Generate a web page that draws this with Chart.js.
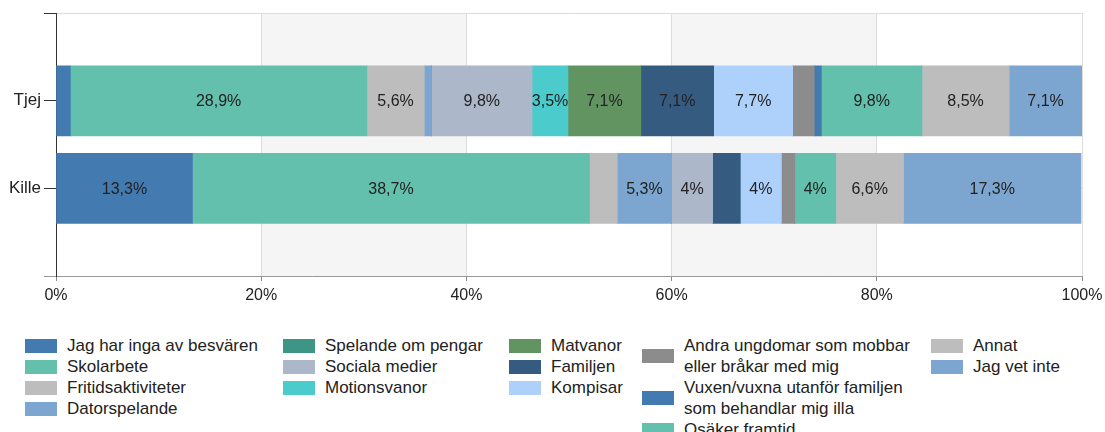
<!DOCTYPE html>
<html lang="sv">
<head>
    <meta charset="UTF-8">
    <title>Besvär – Tjej och Kille</title>
    <style>
        body {
            margin: 0;
            background: #fff;
            font-family: 'Liberation Sans', Arial, sans-serif;
        }
        .wrap {
            position: relative;
            width: 1105px;
            height: 432px;
            overflow: hidden;
        }
        .chart-box {
            position: absolute;
            left: 0;
            top: 0;
            width: 1105px;
            height: 310px;
        }
        #legend {
            position: absolute;
            left: 0;
            top: 335px;
        }
        .col {
            position: absolute;
            top: 0;
        }
        .item {
            display: flex;
            align-items: center;
            font-size: 17px;
            line-height: 21px;
            color: #222;
            white-space: nowrap;
        }
        .item.wrap-text span {
            white-space: normal;
            width: 238px;
        }
        .swatch {
            flex: none;
            width: 32px;
            height: 14px;
            margin-right: 10px;
        }
    </style>
    <script src="https://cdn.jsdelivr.net/npm/chart.js"></script>
</head>
<body>
    <div class="wrap">
        <div class="chart-box">
            <canvas id="chart"></canvas>
        </div>
        <div id="legend"></div>
    </div>

    <script>
        // Data
        const groups = ['Tjej', 'Kille'];
        const answers = [
            'Jag har inga av besvären',
            'Skolarbete',
            'Fritidsaktiviteter',
            'Datorspelande',
            'Spelande om pengar',
            'Sociala medier',
            'Motionsvanor',
            'Matvanor',
            'Familjen',
            'Kompisar',
            'Andra ungdomar som mobbar eller bråkar med mig',
            'Vuxen/vuxna utanför familjen som behandlar mig illa',
            'Osäker framtid',
            'Annat',
            'Jag vet inte'
        ];
        const tjej  = [1.4, 28.9, 5.6, 0.7, 0, 9.8, 3.5, 7.1, 7.1, 7.7, 2.1, 0.7, 9.8, 8.5, 7.1];
        const kille = [13.3, 38.7, 2.7, 5.3, 0, 4, 0, 0, 2.7, 4, 1.3, 0, 4, 6.6, 17.3];
        const colors = [
            '#437bb1', '#63c0ad', '#bdbdbd', '#7ca6cf', '#3d9685',
            '#acb7c9', '#4bcbcb', '#629462', '#365b80', '#aed1fc',
            '#8c8c8c', '#437bb1', '#63c0ad', '#bdbdbd', '#7ca6cf'
        ];

        // legend layout: left edge and number of items per column
        const legendCols = [25, 283, 509, 642, 931];
        const legendPerCol = [4, 3, 3, 3, 2];

        // empty slots above and below give the gap at top and bottom
        const axisLabels = [''].concat(groups, ['']);

        const datasets = answers.map((a, i) => ({
            label: a,
            data: [null, tjej[i], kille[i], null],
            backgroundColor: colors[i],
            borderWidth: 0,
            barThickness: 70
        }));

        const bandPlugin = {
            id: 'bands',
            beforeDraw(chart) {
                const { ctx, chartArea, scales: { x } } = chart;
                ctx.save();
                ctx.fillStyle = '#f5f5f5';
                x.ticks.forEach((t, i) => {
                    if (i % 2 === 1 && i < x.ticks.length - 1) {
                        const x1 = x.getPixelForValue(t.value);
                        const x2 = x.getPixelForValue(x.ticks[i + 1].value);
                        ctx.fillRect(x1, chartArea.top, x2 - x1, chartArea.bottom - chartArea.top);
                    }
                });
                ctx.restore();
            }
        };

        const valueLabels = {
            id: 'valueLabels',
            afterDatasetsDraw(chart) {
                const ctx = chart.ctx;
                ctx.save();
                ctx.font = '16px "Liberation Sans", Arial, sans-serif';
                ctx.fillStyle = '#222';
                ctx.textAlign = 'center';
                ctx.textBaseline = 'middle';
                chart.data.datasets.forEach((ds, i) => {
                    chart.getDatasetMeta(i).data.forEach((bar, j) => {
                        const v = ds.data[j];
                        if (v == null || v < 3) return;
                        const p = bar.getCenterPoint();
                        ctx.fillText(String(v).replace('.', ',') + '%', p.x, p.y + 1);
                    });
                });
                ctx.restore();
            }
        };

        Chart.defaults.font.family = "'Liberation Sans', Arial, sans-serif";
        Chart.defaults.font.size = 16;
        Chart.defaults.color = '#222';

        const chart = new Chart(document.getElementById('chart'), {
            type: 'bar',
            data: { labels: axisLabels, datasets: datasets },
            options: {
                indexAxis: 'y',
                responsive: true,
                maintainAspectRatio: false,
                animation: false,
                layout: { padding: { top: 13, right: 23, bottom: 0, left: 0 } },
                plugins: {
                    legend: { display: false },
                    tooltip: { enabled: false }
                },
                scales: {
                    x: {
                        stacked: true,
                        min: 0,
                        max: 100,
                        ticks: {
                            stepSize: 20,
                            padding: 5,
                            callback: v => v + '%'
                        },
                        grid: { color: '#dddddd', tickColor: '#888', tickLength: 5 },
                        border: { color: '#999' },
                        afterFit: s => {
                            s.height = 34;
                            s.paddingLeft = 0;
                            s.paddingRight = 0;
                        }
                    },
                    y: {
                        stacked: true,
                        offset: false,
                        ticks: { padding: 3, font: { size: 17 } },
                        grid: {
                            offset: false,
                            color: '#dddddd',
                            tickColor: c => c.index === axisLabels.length - 1 ? '#999' : '#333',
                            tickLength: 12
                        },
                        border: { color: '#333' },
                        afterFit: s => { s.width = 56; }
                    }
                }
            },
            plugins: [bandPlugin, valueLabels]
        });

        // HTML legend built from the datasets
        const legend = document.getElementById('legend');
        let k = 0;
        legendCols.forEach((left, c) => {
            const col = document.createElement('div');
            col.className = 'col';
            col.style.left = left + 'px';
            for (let n = 0; n < legendPerCol[c]; n++, k++) {
                const ds = chart.data.datasets[k];
                const item = document.createElement('div');
                item.className = 'item' + (c === 3 ? ' wrap-text' : '');
                item.innerHTML = '<div class="swatch" style="background:' + ds.backgroundColor + '"></div><span></span>';
                item.querySelector('span').textContent = ds.label;
                col.appendChild(item);
            }
            legend.appendChild(col);
        });
    </script>
</body>
</html>
